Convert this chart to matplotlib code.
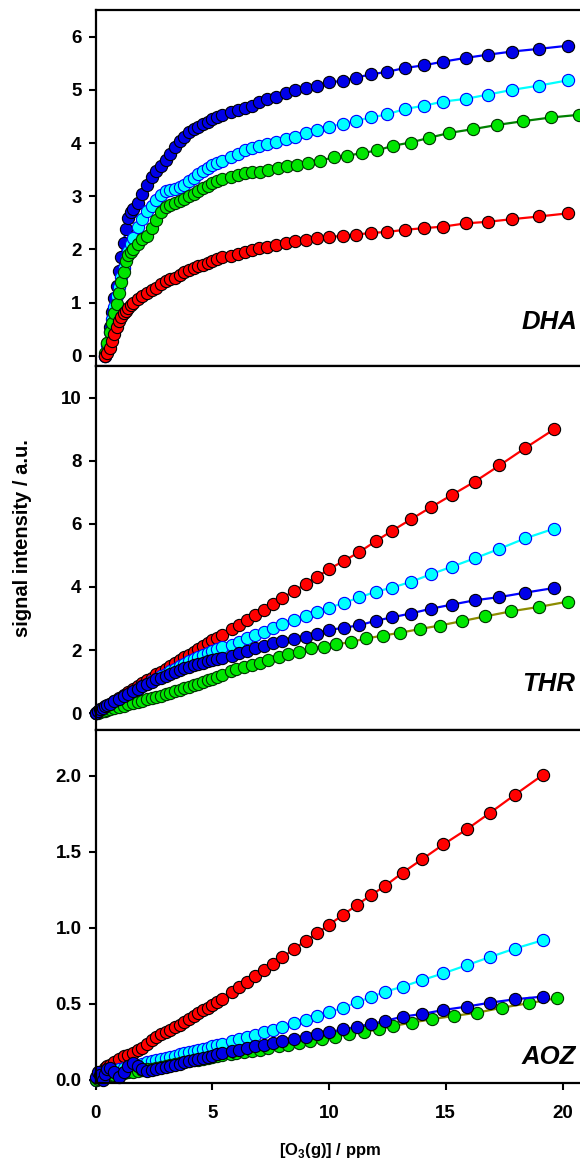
import matplotlib
matplotlib.use('agg')
import matplotlib.pyplot as plt

plt.rcParams['font.family'] = ['Liberation Sans', 'DejaVu Sans']
plt.rcParams['font.weight'] = 'bold'
plt.rcParams['mathtext.fontset'] = 'custom'
plt.rcParams['mathtext.rm'] = 'Liberation Sans:bold'
plt.rcParams['mathtext.bf'] = 'Liberation Sans:bold'

# ---- DHA panel ----
dha_x = [0.4, 0.5, 0.6, 0.7, 0.8, 0.9, 1.0, 1.1, 1.2, 1.3, 1.4, 1.5, 1.6,
         1.8, 2.0, 2.2, 2.4, 2.6, 2.8, 3.0, 3.2, 3.4, 3.6, 3.8, 4.0, 4.2, 4.4, 4.6, 4.8, 5.0, 5.2, 5.4,
         5.8, 6.1, 6.4, 6.7, 7.0, 7.35, 7.75, 8.15, 8.55, 9.0, 9.5, 10.0, 10.6, 11.15, 11.8,
         12.5, 13.25, 14.05, 14.9, 15.85, 16.8, 17.85, 19.0, 20.25]
dha_x_green = [0.4, 0.5, 0.6, 0.7, 0.8, 0.9, 1.0, 1.1, 1.2, 1.3, 1.4, 1.5, 1.6,
               1.8, 2.0, 2.2, 2.4, 2.6, 2.8, 3.0, 3.2, 3.4, 3.6, 3.8, 4.0, 4.2, 4.4, 4.6, 4.8, 5.0, 5.2, 5.4,
               5.8, 6.1, 6.4, 6.7, 7.05, 7.4, 7.8, 8.2, 8.65, 9.1, 9.6, 10.2, 10.75, 11.4, 12.05,
               12.75, 13.5, 14.3, 15.15, 16.15, 17.2, 18.3, 19.5, 20.7]
dha_red = [0.0, 0.05, 0.15, 0.28, 0.42, 0.55, 0.66, 0.74, 0.80, 0.85, 0.90, 0.95, 0.99,
           1.06, 1.12, 1.18, 1.23, 1.28, 1.36, 1.41, 1.44, 1.47, 1.52, 1.57, 1.61, 1.65, 1.68, 1.71, 1.75, 1.79, 1.82, 1.85,
           1.88, 1.92, 1.95, 1.99, 2.02, 2.05, 2.09, 2.12, 2.15, 2.18, 2.21, 2.23, 2.26, 2.28, 2.31,
           2.33, 2.37, 2.40, 2.43, 2.49, 2.52, 2.57, 2.62, 2.68]
dha_cyan = [0.0, 0.2, 0.45, 0.70, 0.92, 1.12, 1.30, 1.48, 1.65, 1.82, 1.97, 2.10, 2.22,
            2.42, 2.58, 2.72, 2.82, 2.93, 3.02, 3.09, 3.12, 3.14, 3.17, 3.21, 3.28, 3.35, 3.41, 3.47, 3.53, 3.58, 3.62, 3.66,
            3.74, 3.80, 3.86, 3.91, 3.95, 3.98, 4.02, 4.08, 4.12, 4.18, 4.25, 4.31, 4.36, 4.42, 4.48,
            4.54, 4.64, 4.70, 4.78, 4.83, 4.91, 5.00, 5.08, 5.18]
dha_green = [0.05, 0.25, 0.45, 0.62, 0.80, 0.98, 1.18, 1.38, 1.58, 1.78, 1.90, 1.96, 2.00,
             2.10, 2.20, 2.26, 2.40, 2.56, 2.70, 2.79, 2.84, 2.88, 2.91, 2.95, 3.00, 3.05, 3.10, 3.15, 3.20, 3.25, 3.29, 3.32,
             3.36, 3.40, 3.43, 3.45, 3.46, 3.50, 3.53, 3.57, 3.59, 3.63, 3.67, 3.73, 3.76, 3.81, 3.86,
             3.95, 4.01, 4.10, 4.19, 4.26, 4.34, 4.41, 4.48, 4.53]
dha_blue = [0.0, 0.25, 0.55, 0.82, 1.08, 1.32, 1.60, 1.85, 2.12, 2.38, 2.60, 2.70, 2.76,
            2.88, 3.05, 3.22, 3.36, 3.47, 3.56, 3.68, 3.80, 3.93, 4.03, 4.12, 4.20, 4.26, 4.31, 4.35, 4.40, 4.45, 4.49, 4.53,
            4.58, 4.63, 4.66, 4.70, 4.77, 4.83, 4.87, 4.94, 4.99, 5.03, 5.08, 5.14, 5.17, 5.23, 5.29,
            5.34, 5.41, 5.46, 5.53, 5.60, 5.66, 5.72, 5.77, 5.83]

# ---- THR panel ----
thr_x = [0.0, 0.1, 0.2, 0.3, 0.4, 0.5, 0.6,
         0.8, 1.0, 1.2, 1.4, 1.6, 1.8, 2.0, 2.2, 2.4, 2.6, 2.8, 3.0, 3.2, 3.4, 3.6, 3.8, 4.0, 4.2, 4.4, 4.6, 4.8, 5.0, 5.2, 5.4,
         5.85, 6.15, 6.5, 6.85, 7.2, 7.6, 8.0, 8.5, 9.0, 9.5, 10.0, 10.65, 11.3, 12.0,
         12.7, 13.5, 14.35, 15.25, 16.25, 17.3, 18.4, 19.65]
thr_x_green = [0.0, 0.1, 0.2, 0.3, 0.4, 0.5, 0.6,
               0.8, 1.0, 1.2, 1.4, 1.6, 1.8, 2.0, 2.2, 2.4, 2.6, 2.8, 3.0, 3.2, 3.4, 3.6, 3.8, 4.0, 4.2, 4.4, 4.6, 4.8, 5.0, 5.2, 5.4,
               5.8, 6.0, 6.35, 6.7, 7.05, 7.4, 7.85, 8.25, 8.7, 9.25, 9.8, 10.3, 10.95, 11.6, 12.3,
               13.05, 13.9, 14.75, 15.7, 16.7, 17.8, 19.0, 20.25]
thr_red = [0.0, 0.05, 0.1, 0.14, 0.19, 0.24, 0.28,
           0.38, 0.47, 0.57, 0.66, 0.76, 0.85, 0.95, 1.04, 1.13, 1.23, 1.32, 1.41, 1.50, 1.59, 1.68, 1.77, 1.86, 1.95, 2.04, 2.13, 2.22, 2.31, 2.39, 2.48,
           2.66, 2.79, 2.95, 3.11, 3.27, 3.46, 3.66, 3.87, 4.09, 4.32, 4.57, 4.83, 5.11, 5.45,
           5.78, 6.14, 6.52, 6.91, 7.34, 7.85, 8.40, 9.00]
thr_cyan = [0.0, 0.05, 0.09, 0.13, 0.17, 0.21, 0.25,
            0.34, 0.42, 0.51, 0.59, 0.68, 0.76, 0.85, 0.93, 1.01, 1.09, 1.17, 1.25, 1.33, 1.41, 1.49, 1.57, 1.64, 1.71, 1.78, 1.85, 1.92, 1.98, 2.04, 2.09,
            2.17, 2.25, 2.37, 2.48, 2.59, 2.70, 2.82, 2.95, 3.07, 3.20, 3.34, 3.50, 3.67, 3.85,
            3.98, 4.16, 4.40, 4.64, 4.91, 5.21, 5.54, 5.85]
thr_green = [0.0, 0.02, 0.04, 0.06, 0.08, 0.10, 0.12,
             0.16, 0.20, 0.24, 0.28, 0.32, 0.36, 0.40, 0.44, 0.48, 0.52, 0.56, 0.61, 0.65, 0.70, 0.74, 0.79, 0.83, 0.88, 0.93, 0.98, 1.04, 1.09, 1.15, 1.21,
             1.34, 1.39, 1.47, 1.53, 1.60, 1.69, 1.79, 1.88, 1.95, 2.06, 2.11, 2.18, 2.26, 2.37, 2.46,
             2.55, 2.67, 2.78, 2.92, 3.07, 3.23, 3.37, 3.54]
thr_blue = [0.0, 0.06, 0.12, 0.17, 0.22, 0.26, 0.30,
            0.38, 0.46, 0.54, 0.62, 0.70, 0.78, 0.86, 0.93, 1.00, 1.07, 1.13, 1.19, 1.25, 1.31, 1.37, 1.43, 1.48, 1.52, 1.56, 1.60, 1.64, 1.68, 1.72, 1.76,
            1.81, 1.90, 1.98, 2.06, 2.13, 2.22, 2.29, 2.34, 2.42, 2.51, 2.64, 2.71, 2.79, 2.93,
            3.04, 3.16, 3.31, 3.44, 3.58, 3.68, 3.82, 3.97]

# ---- AOZ panel ----
aoz_x = [0.0, 0.1, 0.2, 0.3, 0.4, 0.5, 0.6,
         0.8, 1.0, 1.2, 1.4, 1.6, 1.8, 2.0, 2.2, 2.4, 2.6, 2.8, 3.0, 3.2, 3.4, 3.6, 3.8, 4.0, 4.2, 4.4, 4.6, 4.8, 5.0, 5.2, 5.4,
         5.85, 6.15, 6.5, 6.85, 7.2, 7.6, 8.0, 8.5, 9.0, 9.5, 10.0, 10.6, 11.2, 11.8,
         12.4, 13.15, 14.0, 14.9, 15.9, 16.9, 17.95, 19.15]
aoz_x_green = [0.0, 0.1, 0.2, 0.3, 0.4, 0.5, 0.6,
               0.8, 1.0, 1.2, 1.4, 1.6, 1.8, 2.0, 2.2, 2.4, 2.6, 2.8, 3.0, 3.2, 3.4, 3.6, 3.8, 4.0, 4.2, 4.4, 4.6, 4.8, 5.0, 5.2, 5.4,
               5.8, 6.0, 6.35, 6.7, 7.05, 7.4, 7.85, 8.25, 8.7, 9.2, 9.7, 10.25, 10.85, 11.5, 12.15,
               12.75, 13.55, 14.4, 15.35, 16.35, 17.4, 18.55, 19.75]
aoz_red = [0.0, 0.02, 0.04, 0.06, 0.08, 0.09, 0.10,
           0.12, 0.14, 0.155, 0.165, 0.18, 0.195, 0.21, 0.235, 0.26, 0.285, 0.30, 0.315, 0.33, 0.345, 0.36, 0.38, 0.40, 0.42, 0.44, 0.46, 0.475, 0.49, 0.51, 0.53,
           0.58, 0.61, 0.645, 0.685, 0.72, 0.765, 0.805, 0.86, 0.915, 0.965, 1.02, 1.085, 1.15, 1.215,
           1.275, 1.362, 1.452, 1.548, 1.647, 1.756, 1.873, 2.004]
aoz_cyan = [0.0, 0.01, 0.02, 0.03, 0.04, 0.05, 0.055,
            0.065, 0.075, 0.08, 0.088, 0.095, 0.10, 0.108, 0.115, 0.122, 0.13, 0.138, 0.145, 0.153, 0.16, 0.168, 0.175, 0.183, 0.19, 0.198, 0.205, 0.213, 0.22, 0.228, 0.236,
            0.255, 0.268, 0.282, 0.297, 0.313, 0.33, 0.349, 0.372, 0.395, 0.418, 0.445, 0.475, 0.51, 0.545,
            0.58, 0.613, 0.657, 0.701, 0.754, 0.808, 0.863, 0.918]
aoz_green = [0.0, 0.005, 0.01, 0.015, 0.02, 0.025, 0.03,
             0.035, 0.04, 0.045, 0.05, 0.055, 0.06, 0.065, 0.07, 0.075, 0.08, 0.086, 0.092, 0.098, 0.104, 0.11, 0.116, 0.122, 0.128, 0.134, 0.14, 0.146, 0.152, 0.158, 0.164,
             0.17, 0.175, 0.183, 0.192, 0.20, 0.21, 0.221, 0.232, 0.244, 0.257, 0.27, 0.285, 0.30, 0.316, 0.333,
             0.355, 0.377, 0.399, 0.421, 0.442, 0.475, 0.504, 0.537]
aoz_blue = [0.02, 0.05, 0.03, 0.0, 0.04, 0.07, 0.08,
            0.05, 0.02, 0.05, 0.09, 0.11, 0.095, 0.07, 0.06, 0.065, 0.07, 0.078, 0.085, 0.092, 0.10, 0.108, 0.115, 0.122, 0.13, 0.138, 0.145, 0.153, 0.16, 0.168, 0.175,
            0.19, 0.20, 0.21, 0.22, 0.232, 0.244, 0.256, 0.27, 0.285, 0.30, 0.315, 0.332, 0.35, 0.368,
            0.388, 0.416, 0.434, 0.46, 0.482, 0.508, 0.53, 0.548]

# series styles: (line colour, marker face, marker edge)
RED = ('#ff0000', '#ff0000', '#000000')
CYAN = ('#00ffff', '#00ffff', '#0000ff')
BLUE = ('#0000ff', '#0000e8', '#000000')
GREEN_DARK = ('#008000', '#00e600', '#003300')
GREEN_OLIVE = ('#8c8c00', '#00e600', '#003300')


def draw_series(ax, x, y, style):
    line, face, edge = style
    ax.plot(x, y, '-', color=line, lw=1.6, marker='o', ms=8.8,
            mfc=face, mec=edge, mew=0.8, clip_on=False)


def style_axis(ax, ylim, yticks, ylabels, show_x=False):
    ax.set_xlim(0, 22)
    ax.set_ylim(*ylim)
    ax.set_yticks(yticks)
    ax.set_yticklabels(ylabels)
    for side in ['left', 'top', 'bottom']:
        ax.spines[side].set_linewidth(1.6)
    ax.spines['right'].set_visible(False)
    ax.tick_params(axis='y', direction='out', length=5, width=1.5,
                   labelsize=13.5, pad=5)
    if show_x:
        ax.set_xticks([0, 5, 10, 15, 20])
        ax.tick_params(axis='x', direction='out', length=5, width=1.5,
                       labelsize=13.5, pad=11)
    else:
        ax.tick_params(axis='x', bottom=False, labelbottom=False)


def main():
    fig = plt.figure(figsize=(5.8, 11.65), dpi=100)
    W, H = 580.0, 1165.0
    left = 95.5 / W
    width = 22 * 23.35 / W

    def add_panel(top_px, bot_px):
        return fig.add_axes([left, 1 - bot_px / H, width, (bot_px - top_px) / H])

    ax1 = add_panel(10, 366)
    ax2 = add_panel(366, 730)
    ax3 = add_panel(730, 1083)

    # DHA
    draw_series(ax1, dha_x, dha_blue, BLUE)
    draw_series(ax1, dha_x, dha_cyan, CYAN)
    draw_series(ax1, dha_x_green, dha_green, GREEN_DARK)
    draw_series(ax1, dha_x, dha_red, RED)
    style_axis(ax1, (-0.19, 6.5), [0, 1, 2, 3, 4, 5, 6], ['0', '1', '2', '3', '4', '5', '6'])

    # THR
    draw_series(ax2, thr_x, thr_red, RED)
    draw_series(ax2, thr_x, thr_cyan, CYAN)
    draw_series(ax2, thr_x_green, thr_green, GREEN_OLIVE)
    draw_series(ax2, thr_x, thr_blue, BLUE)
    style_axis(ax2, (-0.53, 11.0), [0, 2, 4, 6, 8, 10], ['0', '2', '4', '6', '8', '10'])

    # AOZ
    draw_series(ax3, aoz_x, aoz_red, RED)
    draw_series(ax3, aoz_x, aoz_cyan, CYAN)
    draw_series(ax3, aoz_x_green, aoz_green, GREEN_OLIVE)
    draw_series(ax3, aoz_x, aoz_blue, BLUE)
    style_axis(ax3, (-0.02, 2.3), [0.0, 0.5, 1.0, 1.5, 2.0],
               ['0.0', '0.5', '1.0', '1.5', '2.0'], show_x=True)

    # panel names
    for name, base_px in [('DHA', 329), ('THR', 691), ('AOZ', 1064)]:
        fig.text(522 / W, 1 - base_px / H, name, fontsize=18.5, fontweight='bold',
                 fontstyle='italic', ha='left', va='baseline')

    fig.text(23 / W, 1 - 538 / H, 'signal intensity / a.u.', rotation=90,
             fontsize=14.5, fontweight='bold', ha='center', va='center')
    fig.text(330 / W, 1 - 1150 / H, r'[O$_\mathbf{3}$(g)] / ppm',
             fontsize=12, fontweight='bold', ha='center', va='center')

    fig.savefig('out.png', dpi=100)
    plt.close(fig)


if __name__ == '__main__':
    main()
